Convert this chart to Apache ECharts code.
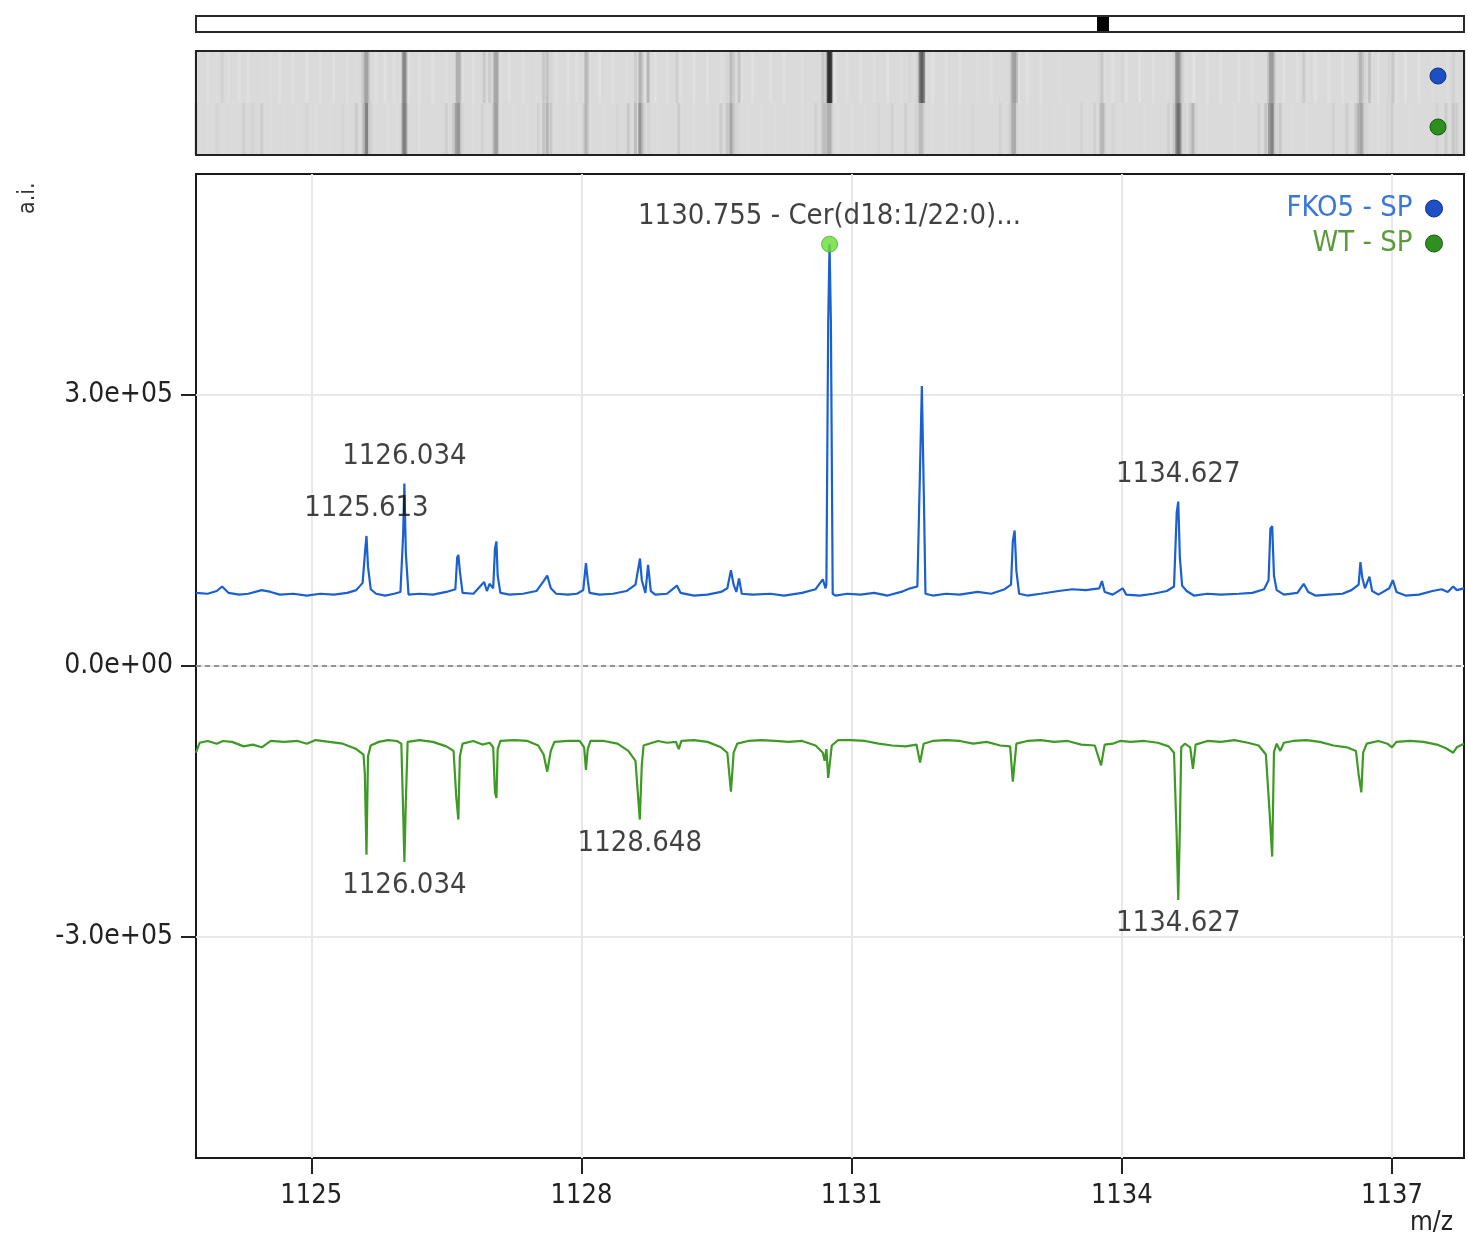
<!DOCTYPE html>
<html>
<head>
<meta charset="utf-8">
<script src="https://cdn.jsdelivr.net/npm/echarts@6/dist/echarts.min.js"></script>
<style>
html,body{margin:0;padding:0;background:#fff;}
#c{width:1468px;height:1237px;}
</style>
</head>
<body>
<div id="c"></div>
<script>
// ---------------- data ----------------
const seriesNames = ['FKO5 - SP', 'WT - SP'];
const viewRange = [1123.72, 1137.8];      // visible m/z window
const fullRange = [65, 1555];             // full m/z range (navigator)
const xTicks = [1125, 1128, 1131, 1134, 1137];
const yTicks = [-3e5, 0, 3e5];
const yRange = [-5.447e5, 5.447e5];

const fko5 = [
[1123.72,8.1e4],[1123.85,8.0e4],[1123.95,8.3e4],[1124.01,8.8e4],[1124.08,8.1e4],[1124.20,7.9e4],
[1124.30,8.0e4],[1124.45,8.4e4],[1124.55,8.2e4],[1124.65,7.9e4],[1124.80,8.0e4],[1124.95,7.8e4],
[1125.10,8.0e4],[1125.25,7.9e4],[1125.40,8.1e4],[1125.50,8.4e4],[1125.57,9.2e4],[1125.60,1.30e5],
[1125.613,1.44e5],[1125.63,1.10e5],[1125.66,8.5e4],[1125.72,8.0e4],[1125.82,7.8e4],[1125.92,8.0e4],
[1125.99,8.2e4],[1126.02,1.45e5],[1126.034,2.02e5],[1126.05,1.25e5],[1126.08,7.9e4],[1126.20,8.0e4],
[1126.35,7.9e4],[1126.50,8.2e4],[1126.60,8.5e4],[1126.62,1.20e5],[1126.633,1.23e5],[1126.65,1.05e5],
[1126.68,8.1e4],[1126.80,8.0e4],[1126.92,9.3e4],[1126.95,8.3e4],[1126.98,9.1e4],[1127.02,8.6e4],
[1127.04,1.30e5],[1127.056,1.38e5],[1127.07,1.00e5],[1127.10,8.1e4],[1127.20,7.9e4],[1127.35,8.0e4],
[1127.50,8.3e4],[1127.58,9.4e4],[1127.62,1.00e5],[1127.66,8.6e4],[1127.72,8.0e4],[1127.85,7.9e4],
[1127.95,8.0e4],[1128.02,8.4e4],[1128.05,1.14e5],[1128.07,9.5e4],[1128.09,8.1e4],[1128.20,7.9e4],
[1128.35,8.0e4],[1128.50,8.3e4],[1128.60,9.0e4],[1128.65,1.19e5],[1128.67,9.5e4],[1128.71,8.1e4],
[1128.74,1.12e5],[1128.77,8.3e4],[1128.82,7.9e4],[1128.95,8.0e4],[1129.06,8.9e4],[1129.10,8.1e4],
[1129.25,7.8e4],[1129.40,7.9e4],[1129.55,8.2e4],[1129.62,8.6e4],[1129.66,1.06e5],[1129.69,9.0e4],
[1129.72,8.2e4],[1129.75,9.7e4],[1129.78,8.0e4],[1129.90,7.9e4],[1130.10,8.0e4],[1130.25,7.8e4],
[1130.45,8.1e4],[1130.60,8.5e4],[1130.68,9.6e4],[1130.71,8.6e4],[1130.72,9.0e4],[1130.74,3.8e5],
[1130.755,4.67e5],[1130.77,3.8e5],[1130.79,8.0e4],[1130.82,7.8e4],[1130.95,8.0e4],[1131.10,7.9e4],
[1131.25,8.1e4],[1131.40,7.8e4],[1131.55,8.2e4],[1131.65,8.6e4],[1131.73,8.8e4],[1131.76,2.2e5],
[1131.78,3.10e5],[1131.80,2.0e5],[1131.82,8.0e4],[1131.90,7.8e4],[1132.05,8.0e4],[1132.20,7.9e4],
[1132.40,8.2e4],[1132.55,8.0e4],[1132.70,8.5e4],[1132.77,9.0e4],[1132.79,1.38e5],[1132.81,1.50e5],
[1132.83,1.05e5],[1132.86,8.0e4],[1132.95,7.8e4],[1133.10,8.0e4],[1133.30,8.3e4],[1133.45,8.5e4],
[1133.60,8.4e4],[1133.75,8.6e4],[1133.78,9.4e4],[1133.81,8.2e4],[1133.90,7.9e4],[1134.01,8.6e4],
[1134.05,7.9e4],[1134.20,7.8e4],[1134.35,8.0e4],[1134.50,8.3e4],[1134.58,8.8e4],[1134.61,1.70e5],
[1134.627,1.82e5],[1134.645,1.20e5],[1134.67,8.9e4],[1134.72,8.3e4],[1134.80,7.8e4],[1134.95,8.0e4],
[1135.10,7.9e4],[1135.30,8.0e4],[1135.45,8.1e4],[1135.58,8.5e4],[1135.63,9.5e4],[1135.65,1.52e5],
[1135.67,1.55e5],[1135.69,1.00e5],[1135.72,8.4e4],[1135.80,7.9e4],[1135.95,8.1e4],[1136.02,9.1e4],
[1136.07,8.2e4],[1136.15,7.8e4],[1136.30,7.9e4],[1136.45,8.0e4],[1136.55,8.4e4],[1136.63,9.0e4],
[1136.65,1.15e5],[1136.67,9.8e4],[1136.70,8.6e4],[1136.75,9.9e4],[1136.78,8.3e4],[1136.85,7.9e4],
[1136.97,8.6e4],[1137.01,9.5e4],[1137.05,8.2e4],[1137.15,7.8e4],[1137.30,7.9e4],[1137.45,8.3e4],
[1137.55,8.5e4],[1137.62,8.2e4],[1137.68,8.8e4],[1137.72,8.4e4],[1137.80,8.6e4]
];

const wt = [
[1123.72,-9.6e4],[1123.76,-8.5e4],[1123.85,-8.3e4],[1123.95,-8.6e4],[1124.02,-8.3e4],[1124.12,-8.4e4],
[1124.25,-8.9e4],[1124.35,-8.7e4],[1124.45,-9.0e4],[1124.55,-8.3e4],[1124.70,-8.4e4],[1124.85,-8.3e4],
[1124.95,-8.6e4],[1125.05,-8.2e4],[1125.20,-8.4e4],[1125.35,-8.6e4],[1125.50,-9.2e4],[1125.58,-9.8e4],
[1125.595,-1.2e5],[1125.613,-2.09e5],[1125.63,-1.0e5],[1125.66,-8.8e4],[1125.75,-8.4e4],[1125.85,-8.2e4],
[1125.95,-8.3e4],[1126.00,-8.6e4],[1126.02,-1.6e5],[1126.034,-2.17e5],[1126.05,-1.5e5],[1126.07,-8.4e4],
[1126.20,-8.2e4],[1126.35,-8.4e4],[1126.50,-8.9e4],[1126.58,-9.4e4],[1126.61,-1.45e5],[1126.633,-1.70e5],
[1126.65,-1.0e5],[1126.68,-8.6e4],[1126.80,-8.3e4],[1126.90,-8.7e4],[1126.98,-8.5e4],[1127.02,-9.0e4],
[1127.04,-1.40e5],[1127.056,-1.46e5],[1127.07,-9.2e4],[1127.10,-8.3e4],[1127.25,-8.2e4],[1127.40,-8.3e4],
[1127.52,-8.8e4],[1127.58,-9.8e4],[1127.62,-1.17e5],[1127.66,-9.4e4],[1127.70,-8.4e4],[1127.85,-8.3e4],
[1127.98,-8.3e4],[1128.03,-9.0e4],[1128.05,-1.15e5],[1128.07,-9.2e4],[1128.10,-8.3e4],[1128.25,-8.3e4],
[1128.40,-8.6e4],[1128.52,-9.4e4],[1128.60,-1.05e5],[1128.648,-1.70e5],[1128.67,-1.1e5],[1128.69,-8.8e4],
[1128.75,-8.6e4],[1128.85,-8.3e4],[1128.95,-8.5e4],[1129.05,-8.4e4],[1129.08,-9.2e4],[1129.11,-8.3e4],
[1129.25,-8.2e4],[1129.40,-8.4e4],[1129.55,-9.0e4],[1129.62,-9.6e4],[1129.66,-1.39e5],[1129.69,-9.6e4],
[1129.73,-8.6e4],[1129.85,-8.3e4],[1130.00,-8.2e4],[1130.15,-8.3e4],[1130.30,-8.4e4],[1130.45,-8.3e4],
[1130.60,-8.8e4],[1130.68,-9.6e4],[1130.70,-1.05e5],[1130.72,-9.2e4],[1130.74,-1.24e5],[1130.76,-1.24e5],
[1130.78,-8.8e4],[1130.85,-8.2e4],[1131.00,-8.2e4],[1131.15,-8.3e4],[1131.30,-8.6e4],[1131.45,-8.8e4],
[1131.60,-8.9e4],[1131.72,-8.7e4],[1131.76,-1.07e5],[1131.78,-1.08e5],[1131.80,-8.6e4],[1131.90,-8.3e4],
[1132.05,-8.2e4],[1132.20,-8.3e4],[1132.35,-8.6e4],[1132.50,-8.4e4],[1132.65,-8.8e4],[1132.76,-8.9e4],
[1132.79,-1.28e5],[1132.81,-1.29e5],[1132.83,-8.6e4],[1132.95,-8.3e4],[1133.10,-8.2e4],[1133.25,-8.4e4],
[1133.40,-8.3e4],[1133.55,-8.7e4],[1133.70,-8.8e4],[1133.77,-1.1e5],[1133.79,-1.12e5],[1133.81,-8.7e4],
[1133.90,-8.6e4],[1133.98,-8.3e4],[1134.10,-8.4e4],[1134.25,-8.3e4],[1134.40,-8.5e4],[1134.52,-8.9e4],
[1134.58,-9.6e4],[1134.61,-1.9e5],[1134.627,-2.59e5],[1134.645,-1.8e5],[1134.66,-9.0e4],[1134.70,-8.6e4],
[1134.76,-9.0e4],[1134.79,-1.14e5],[1134.82,-8.7e4],[1134.95,-8.3e4],[1135.10,-8.4e4],[1135.25,-8.2e4],
[1135.40,-8.5e4],[1135.52,-8.8e4],[1135.60,-9.8e4],[1135.64,-1.6e5],[1135.67,-2.11e5],[1135.69,-9.5e4],
[1135.72,-8.6e4],[1135.76,-9.4e4],[1135.80,-8.5e4],[1135.90,-8.3e4],[1136.05,-8.2e4],[1136.20,-8.4e4],
[1136.35,-8.8e4],[1136.50,-9.0e4],[1136.60,-9.4e4],[1136.63,-1.2e5],[1136.66,-1.40e5],[1136.68,-9.6e4],
[1136.72,-8.6e4],[1136.85,-8.3e4],[1136.95,-8.6e4],[1137.00,-9.0e4],[1137.05,-8.4e4],[1137.20,-8.3e4],
[1137.35,-8.4e4],[1137.50,-8.7e4],[1137.60,-9.1e4],[1137.68,-9.6e4],[1137.72,-9.0e4],[1137.80,-8.6e4]
];

const topLabels = [[1125.613,1.44e5,'1125.613'],[1126.034,2.02e5,'1126.034'],[1134.627,1.82e5,'1134.627']];
const selectedPeak = [[1130.755,4.67e5,'1130.755 - Cer(d18:1/22:0)...']];
const bottomLabels = [[1126.034,-2.17e5,'1126.034'],[1128.648,-1.70e5,'1128.648'],[1134.627,-2.59e5,'1134.627']];

// ---------------- style ----------------
const FONT = "'DejaVu Sans Condensed','Liberation Sans Narrow','DejaVu Sans',sans-serif";
const BLUE = '#1b60d0', GREEN = '#3d9a24';
const L = 196, R = 4;
const LABEL_COLOR = '#111';

const heatData = fko5.map(p => [p[0], 0, Math.abs(p[1])])
  .concat(wt.map(p => [p[0], 1, Math.abs(p[1])]))
  .sort((p, q) => p[2] - q[2]);

function gray(v){
  const base = 8.5e4, top = 4.67e5;
  let g;
  if (v <= base) g = Math.min(226, 218 + (base - v) / 1000);
  else { const t = Math.min(1, (v - base) / (top - base)); g = 218 - 170 * Math.pow(t, 0.6); }
  g = Math.round(g);
  return 'rgb(' + g + ',' + g + ',' + g + ')';
}

function fmtExp(v){
  if (v === 0) return '0.0e+00';
  let s = v.toExponential(1);
  return s.replace(/e([+-])(\d)$/, 'e$10$2');
}

const chart = echarts.init(document.getElementById('c'));
chart.setOption({
  animation: false,
  backgroundColor: '#fff',
  textStyle: { fontFamily: FONT },
  grid: [
    { left: L, right: R, top: 16, height: 16, show: true, backgroundColor: '#fff', borderColor: '#2a2a2a', borderWidth: 2 },
    { left: L, right: R, top: 51, height: 104, show: true, backgroundColor: '#dadada', borderWidth: 0 },
    { left: L, right: R, top: 174, height: 984, show: true, backgroundColor: '#fff', borderColor: '#1a1a1a', borderWidth: 2 }
  ],
  xAxis: [
    { gridIndex: 0, type: 'value', min: fullRange[0], max: fullRange[1], show: false },
    { gridIndex: 1, type: 'value', min: viewRange[0], max: viewRange[1], show: false },
    { gridIndex: 2, type: 'value', min: viewRange[0], max: viewRange[1],
      axisLine: { show: false, onZero: false },
      axisTick: { show: true, length: 16, customValues: xTicks, lineStyle: { color: '#222', width: 2 } },
      axisLabel: { customValues: xTicks, margin: 24, color: '#222', fontSize: 27, fontFamily: FONT, formatter: v => String(v) },
      splitLine: { show: true, lineStyle: { color: '#e8e8e8', width: 2 } } }
  ],
  yAxis: [
    { gridIndex: 0, type: 'value', min: 0, max: 1, show: false },
    { gridIndex: 1, type: 'category', data: seriesNames, inverse: true, show: false },
    { gridIndex: 2, type: 'value', min: yRange[0], max: yRange[1],
      axisLine: { show: false, onZero: false },
      axisTick: { show: true, length: 15, customValues: yTicks, lineStyle: { color: '#222', width: 2 } },
      axisLabel: { customValues: yTicks, margin: 23, color: '#222', fontSize: 28, fontFamily: FONT, formatter: fmtExp },
      splitLine: { show: true, lineStyle: { color: '#e8e8e8', width: 2 } } }
  ],
  legend: {
    right: 20, top: 189, orient: 'vertical', align: 'right', itemGap: 6,
    itemWidth: 17, itemHeight: 17, icon: 'circle',
    textStyle: { fontSize: 29, fontFamily: FONT, padding: [0, 8, 0, 0] },
    data: [
      { name: seriesNames[0], textStyle: { color: '#3b78d6' }, itemStyle: { color: '#1f4fc4', borderColor: '#0f2f80', borderWidth: 1 } },
      { name: seriesNames[1], textStyle: { color: '#5d9a3c' }, itemStyle: { color: '#2f8f20', borderColor: '#1a5a10', borderWidth: 1 } }
    ]
  },
  graphic: [
    { type: 'rect', z: 100, shape: { x: L, y: 51, width: 1468 - L - R, height: 104 }, style: { fill: 'none', stroke: '#222', lineWidth: 2 } },
    { type: 'circle', z: 101, shape: { cx: 1438, cy: 76, r: 8 }, style: { fill: '#1d4fc4', stroke: '#0f2f80', lineWidth: 1 } },
    { type: 'circle', z: 101, shape: { cx: 1438, cy: 127, r: 8 }, style: { fill: '#2e8f1f', stroke: '#1a5a10', lineWidth: 1 } },
    { type: 'text', z: 100, x: 17, y: 214, rotation: Math.PI / 2, style: { text: 'a.i.', font: '23px ' + FONT, fill: '#333' } },
    { type: 'text', z: 100, x: 1410, y: 1210, style: { text: 'm/z', font: '26px ' + FONT, fill: '#222' } }
  ],
  series: [
    { type: 'custom', xAxisIndex: 0, yAxisIndex: 0, silent: true,
      data: [[viewRange[0], viewRange[1]]],
      renderItem: function (params, api) {
        const a = api.coord([api.value(0), 0]);
        const b = api.coord([api.value(1), 1]);
        let w = Math.max(12, b[0] - a[0]);
        const cx = (a[0] + b[0]) / 2;
        return { type: 'rect', shape: { x: cx - w / 2, y: b[1] + 1, width: w, height: a[1] - b[1] - 2 }, style: { fill: '#000' } };
      } },
    { type: 'custom', xAxisIndex: 1, yAxisIndex: 1, silent: true,
      data: heatData,
      renderItem: function (params, api) {
        const p = api.coord([api.value(0), api.value(1)]);
        const bh = api.size([0, 1])[1];
        const w = 3;
        return { type: 'rect', shape: { x: p[0] - w / 2, y: p[1] - bh / 2, width: w, height: bh }, style: { fill: gray(api.value(2)) } };
      } },
    { name: seriesNames[0], type: 'line', xAxisIndex: 2, yAxisIndex: 2, data: fko5, showSymbol: false, symbol: 'none',
      color: BLUE, lineStyle: { color: BLUE, width: 2.2 }, silent: true, z: 3,
      markLine: { silent: true, symbol: 'none', label: { show: false },
        lineStyle: { color: '#777', type: [5, 4], width: 1.5 }, data: [{ yAxis: 0 }] } },
    { name: seriesNames[1], type: 'line', xAxisIndex: 2, yAxisIndex: 2, data: wt, showSymbol: false, symbol: 'none',
      color: GREEN, lineStyle: { color: GREEN, width: 2.2 }, silent: true, z: 3 },
    { type: 'scatter', xAxisIndex: 2, yAxisIndex: 2, data: topLabels, symbolSize: 0, silent: true, z: 5,
      label: { show: true, position: 'top', distance: 13, color: LABEL_COLOR, fontSize: 29, fontFamily: FONT,
        formatter: p => p.data[2] } },
    { type: 'scatter', xAxisIndex: 2, yAxisIndex: 2, data: selectedPeak, symbol: 'circle', symbolSize: 16, silent: true, z: 6,
      itemStyle: { color: '#66dd33', borderColor: '#3fae1f', borderWidth: 1 },
      label: { show: true, position: 'top', distance: 5, color: LABEL_COLOR, fontSize: 29, fontFamily: FONT,
        formatter: p => p.data[2] } },
    { type: 'scatter', xAxisIndex: 2, yAxisIndex: 2, data: bottomLabels, symbolSize: 0, silent: true, z: 5,
      label: { show: true, position: 'bottom', distance: 9, color: LABEL_COLOR, fontSize: 29, fontFamily: FONT,
        formatter: p => p.data[2] } }
  ]
});
</script>
</body>
</html>
